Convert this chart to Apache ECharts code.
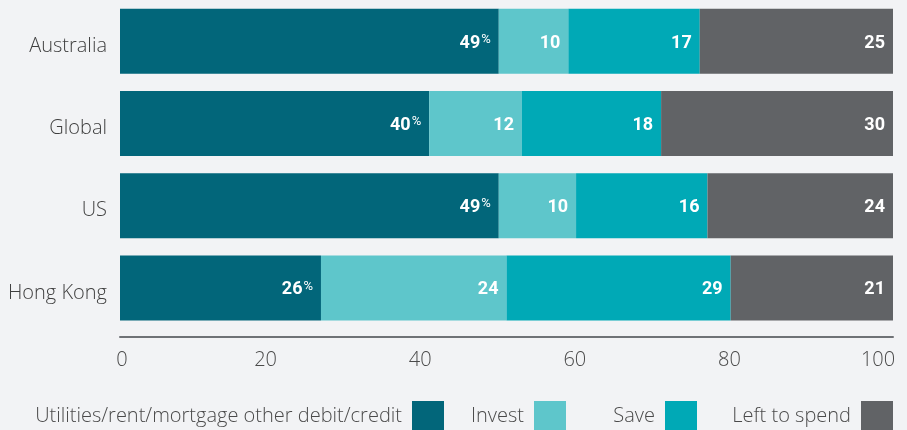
<!DOCTYPE html>
<html>
<head>
<meta charset="utf-8">
<script src="https://cdn.jsdelivr.net/npm/echarts@6/dist/echarts.min.js"></script>
<style>
html,body{margin:0;padding:0;background:#f2f3f5;}
#c{width:907px;height:430px;}
</style>
</head>
<body>
<div id="c"></div>
<script>
// ---- data ----
const categories = ['Australia', 'Global', 'US', 'Hong Kong'];
const seriesNames = ['Utilities/rent/mortgage other debit/credit', 'Invest', 'Save', 'Left to spend'];
// bar lengths as drawn
const utilities = [49, 40, 49, 26];
const invest = [9, 12, 10, 24];
const save = [17, 18, 17, 29];
const leftToSpend = [25, 30, 24, 21];
// printed labels
const utilitiesLabels = [49, 40, 49, 26];
const investLabels = [10, 12, 10, 24];
const saveLabels = [17, 18, 16, 29];
const leftLabels = [25, 30, 24, 21];
const xTicks = [0, 20, 40, 60, 80, 100];

const colors = ['#02667a', '#5ec6cb', '#00a9b6', '#616366'];
const FONT = 'Roboto';
const TFONT = 'Open Sans';

const chart = echarts.init(document.getElementById('c'), null, {renderer: 'canvas'});

function mkLabel(labels, pct) {
  return {
    show: true,
    position: 'insideRight',
    distance: 8,
    offset: [0, 2],
    formatter: p => pct ? '{v|' + labels[p.dataIndex] + '}{p|%}' : '{v|' + labels[p.dataIndex] + '}',
    rich: {
      v: {color: '#fff', fontFamily: FONT, fontWeight: 'bold', fontSize: 18, lineHeight: 20},
      p: {color: '#fff', fontFamily: FONT, fontWeight: 'normal', fontSize: 13, lineHeight: 20, padding: [0, 0, 7, 1]}
    }
  };
}

const legendRights = [463, 341, 210, 14];
const legends = seriesNames.map((n, i) => ({
  data: [n],
  right: legendRights[i],
  top: 401,
  orient: 'horizontal',
  align: 'right',
  padding: 0,
  itemWidth: 32,
  itemHeight: 30,
  icon: 'rect',
  selectedMode: false,
  textStyle: {color: '#4a4a4a', fontFamily: TFONT, fontWeight: 300, fontSize: 20, padding: [0, 5, 0, 0]}
}));

const tickPad = {0: [0, 0, 0, 4], 100: [0, 30, 0, 0]};

chart.setOption({
  backgroundColor: '#f2f3f5',
  animation: false,
  color: colors,
  legend: legends,
  grid: {left: 120, right: 14, top: 0, bottom: 101, containLabel: false},
  xAxis: {
    type: 'value',
    min: 0, max: 100, interval: 20,
    offset: 8,
    axisLine: {show: true, lineStyle: {color: '#6f7276', width: 2}},
    axisTick: {show: false},
    splitLine: {show: false},
    axisLabel: {
      margin: 13,
      formatter: v => xTicks.indexOf(v) >= 0 ? '{t' + v + '|' + v + '}' : '',
      rich: Object.fromEntries(xTicks.map(t => ['t' + t, {
        color: '#4a4a4a', fontFamily: TFONT, fontWeight: 300, fontSize: 20,
        padding: tickPad[t] || [0, 18, 0, 0]
      }]))
    }
  },
  yAxis: {
    type: 'category',
    data: categories,
    inverse: true,
    axisLine: {show: false},
    axisTick: {show: false},
    axisLabel: {
      margin: 13,
      formatter: v => '{c|' + v + '}',
      rich: {c: {color: '#3f3f3f', fontFamily: TFONT, fontWeight: 300, fontSize: 20, lineHeight: 24, padding: [10, 0, 0, 0]}}
    }
  },
  series: [
    {name: seriesNames[0], type: 'bar', stack: 'a', barWidth: 65, data: utilities, label: mkLabel(utilitiesLabels, true)},
    {name: seriesNames[1], type: 'bar', stack: 'a', barWidth: 65, data: invest, label: mkLabel(investLabels, false)},
    {name: seriesNames[2], type: 'bar', stack: 'a', barWidth: 65, data: save, label: mkLabel(saveLabels, false)},
    {name: seriesNames[3], type: 'bar', stack: 'a', barWidth: 65, data: leftToSpend, label: mkLabel(leftLabels, false)}
  ]
});
</script>
</body>
</html>
